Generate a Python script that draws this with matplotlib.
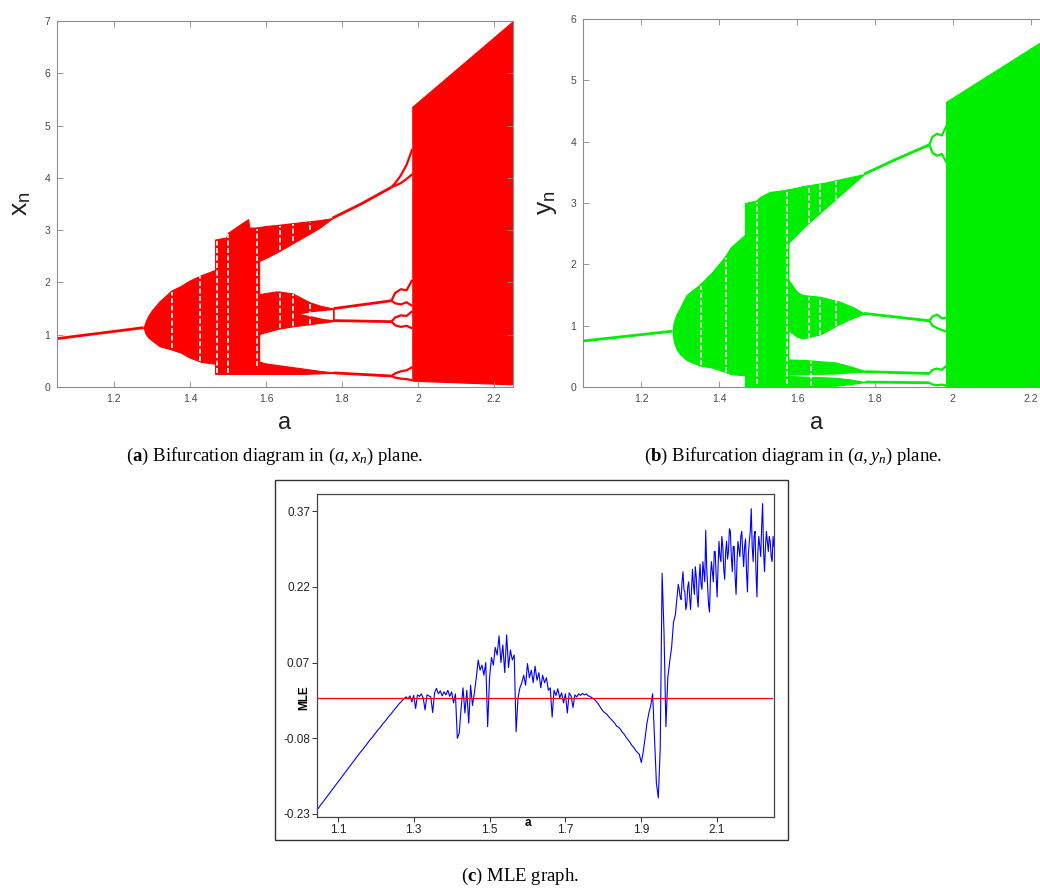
import numpy as np
import matplotlib
matplotlib.use("Agg")
import matplotlib.pyplot as plt
from matplotlib.patches import Rectangle

plt.rcParams['mathtext.fontset'] = 'custom'
plt.rcParams['mathtext.rm'] = 'Liberation Serif'
plt.rcParams['mathtext.it'] = 'Liberation Serif:italic'
plt.rcParams['mathtext.bf'] = 'Liberation Serif:bold'
plt.rcParams['mathtext.sf'] = 'Liberation Sans'
plt.rcParams['font.family'] = ['Liberation Sans', 'DejaVu Sans']

# ---------------- panel (a): bifurcation in (a, x_n) ----------------
xa_fix_a = [1.05, 1.278]
xa_fix_v = [0.925, 1.135]

xa_lens_a = [1.278, 1.283, 1.29, 1.30, 1.32, 1.35, 1.375, 1.40, 1.43, 1.466]
xa_lens_hi = [1.135, 1.25, 1.36, 1.47, 1.64, 1.84, 1.93, 2.04, 2.14, 2.24]
xa_lens_lo = [1.135, 1.02, 0.95, 0.89, 0.78, 0.72, 0.66, 0.56, 0.48, 0.445]

xa_b1_a = [1.466, 1.495, 1.50, 1.51, 1.53, 1.553, 1.556, 1.582]
xa_b1_hi = [2.82, 2.86, 2.95, 3.00, 3.10, 3.21, 3.05, 3.05]
xa_b1_lo = [0.25, 0.25, 0.25, 0.25, 0.25, 0.25, 0.25, 0.25]

xa_w_a = [1.575, 1.60, 1.63, 1.69, 1.74, 1.775]
xa_w_hi = [3.05, 3.08, 3.10, 3.15, 3.19, 3.23]
xa_w_lo = [2.39, 2.47, 2.58, 2.83, 3.04, 3.23]

xa_m_a = [1.575, 1.585, 1.61, 1.63, 1.67, 1.715, 1.745, 1.778]
xa_m_hi = [1.72, 1.78, 1.81, 1.83, 1.79, 1.62, 1.55, 1.50]
xa_m_lo = [0.96, 1.02, 1.07, 1.11, 1.16, 1.20, 1.23, 1.26]

xa_hole_a = [1.69, 1.72, 1.75, 1.775]
xa_hole_hi = [1.40, 1.44, 1.46, 1.48]
xa_hole_lo = [1.40, 1.36, 1.31, 1.29]

xa_lb_a = [1.575, 1.60, 1.65, 1.70, 1.74, 1.778]
xa_lb_hi = [0.50, 0.45, 0.40, 0.35, 0.31, 0.28]
xa_lb_lo = [0.25, 0.25, 0.25, 0.25, 0.26, 0.27]

xa_top_a = [1.775, 1.85, 1.93]
xa_top_v = [3.23, 3.50, 3.82]
xa_mu_a = [1.778, 1.93]
xa_mu_v = [1.50, 1.65]
xa_ml_a = [1.778, 1.93]
xa_ml_v = [1.27, 1.25]
xa_bt_a = [1.778, 1.93]
xa_bt_v = [0.27, 0.21]

xa_pd_a = [1.93, 1.94, 1.955, 1.97, 1.985]
xa_pd_top_hi = [3.82, 3.90, 4.05, 4.25, 4.55]
xa_pd_top_lo = [3.82, 3.85, 3.90, 3.98, 4.07]
xa_pd_mu_hi = [1.65, 1.80, 1.87, 1.85, 2.05]
xa_pd_mu_lo = [1.65, 1.60, 1.58, 1.62, 1.55]
xa_pd_ml_hi = [1.25, 1.33, 1.37, 1.36, 1.45]
xa_pd_ml_lo = [1.25, 1.18, 1.15, 1.17, 1.12]
xa_pd_bt_hi = [0.21, 0.26, 0.30, 0.32, 0.38]
xa_pd_bt_lo = [0.21, 0.18, 0.16, 0.15, 0.13]

xa_big_a = [1.985, 2.25]
xa_big_hi = [5.36, 7.0]
xa_big_lo = [0.12, 0.05]

xa_win_a = [1.352, 1.427, 1.470, 1.500, 1.577, 1.637, 1.637, 1.672, 1.672, 1.715, 1.715]
xa_win_lo = [0.74, 0.50, 0.27, 0.27, 0.40, 2.62, 1.12, 2.80, 1.17, 3.00, 1.21]
xa_win_hi = [1.82, 2.12, 2.80, 2.92, 3.02, 3.08, 1.80, 3.12, 1.78, 3.15, 1.62]

# ---------------- panel (b): bifurcation in (a, y_n) ----------------
ya_fix_a = [1.05, 1.28]
ya_fix_v = [0.75, 0.91]

ya_lens_a = [1.28, 1.283, 1.29, 1.30, 1.316, 1.35, 1.38, 1.414, 1.43, 1.466]
ya_lens_hi = [0.91, 1.05, 1.18, 1.30, 1.50, 1.67, 1.86, 2.12, 2.28, 2.48]
ya_lens_lo = [0.91, 0.75, 0.62, 0.53, 0.44, 0.35, 0.32, 0.25, 0.21, 0.19]

ya_b1_a = [1.466, 1.495, 1.505, 1.53, 1.578]
ya_b1_hi = [3.00, 3.04, 3.10, 3.18, 3.22]
ya_b1_lo = [0.0, 0.0, 0.0, 0.0, 0.0]

ya_w_a = [1.575, 1.62, 1.67, 1.72, 1.772]
ya_w_hi = [3.22, 3.28, 3.33, 3.40, 3.47]
ya_w_lo = [2.33, 2.62, 2.90, 3.18, 3.47]

ya_m_a = [1.572, 1.60, 1.615, 1.66, 1.71, 1.745, 1.772]
ya_m_hi = [1.80, 1.55, 1.50, 1.47, 1.39, 1.30, 1.20]
ya_m_lo = [0.95, 0.82, 0.79, 0.86, 1.03, 1.13, 1.20]

ya_l1_a = [1.572, 1.62, 1.70, 1.74, 1.775]
ya_l1_hi = [0.45, 0.44, 0.40, 0.33, 0.26]
ya_l1_lo = [0.20, 0.21, 0.22, 0.24, 0.25]
ya_l2_hi = [0.18, 0.17, 0.15, 0.12, 0.08]
ya_l2_lo = [0.0, 0.0, 0.02, 0.05, 0.08]

ya_top_a = [1.772, 1.85, 1.94]
ya_top_v = [3.47, 3.70, 3.95]
ya_mid_a = [1.772, 1.94]
ya_mid_v = [1.20, 1.08]
ya_low1_a = [1.775, 1.94]
ya_low1_v = [0.25, 0.22]
ya_low2_a = [1.775, 1.94]
ya_low2_v = [0.08, 0.07]

ya_pd_a = [1.94, 1.948, 1.96, 1.972, 1.985]
ya_pd_top_hi = [3.95, 4.08, 4.13, 4.10, 4.27]
ya_pd_top_lo = [3.95, 3.82, 3.77, 3.80, 3.65]
ya_pd_mid_hi = [1.08, 1.15, 1.18, 1.12, 1.13]
ya_pd_mid_lo = [1.08, 1.00, 0.96, 0.93, 0.90]
ya_pd_low_hi = [0.22, 0.28, 0.30, 0.28, 0.35]
ya_pd_low_lo = [0.07, 0.04, 0.03, 0.04, 0.02]

ya_big_a = [1.983, 2.25]
ya_big_hi = [4.65, 5.72]
ya_big_lo = [0.0, 0.0]

ya_win_a = [1.352, 1.418, 1.498, 1.575, 1.632, 1.632, 1.66, 1.66, 1.70, 1.70, 1.635]
ya_win_lo = [0.36, 0.25, 0.05, 0.05, 2.68, 0.80, 2.85, 0.85, 3.05, 1.00, 0.02]
ya_win_hi = [1.65, 2.10, 3.02, 3.18, 3.28, 1.47, 3.31, 1.45, 3.36, 1.40, 0.42]

# ---------------- panel (c): MLE ----------------
# part 1: a = 1.045 ... 1.990, step 0.005
mle1_a_start = 1.045
mle1_a_step = 0.005
mle1_v = [
    -0.222, -0.217, -0.212, -0.207, -0.202, -0.197, -0.192, -0.187, -0.182, -0.177,
    -0.172, -0.167, -0.162, -0.157, -0.152, -0.147, -0.142, -0.137, -0.132, -0.127,
    -0.122, -0.117, -0.112, -0.107, -0.103, -0.098, -0.093, -0.088, -0.083, -0.079,
    -0.074, -0.069, -0.064, -0.060, -0.055, -0.050, -0.046, -0.041, -0.036, -0.032,
    -0.027, -0.022, -0.018, -0.013, -0.009, -0.005, -0.001, 0.002, -0.002, 0.004,
    -0.008, 0.005, -0.021, 0.006, 0.003, 0.008, 0.000, -0.024, 0.006, 0.004,
    0.002, -0.029, 0.010, 0.019, 0.008, 0.014, 0.004, 0.012, 0.006, 0.015,
    0.003, 0.012, -0.010, 0.008, -0.080, -0.070, -0.020, 0.020, -0.030, 0.015,
    -0.050, 0.025, -0.015, 0.010, 0.040, 0.075, 0.055, 0.065, 0.045, 0.070,
    -0.057, 0.040, 0.080, 0.065, 0.100, 0.085, 0.123, 0.070, 0.105, 0.050,
    0.125, 0.060, 0.095, 0.075, 0.085, -0.067, 0.000, 0.020, 0.030, 0.045,
    0.025, 0.068, 0.040, 0.055, 0.030, 0.063, 0.035, 0.050, 0.020, 0.045,
    0.030, 0.040, 0.015, 0.020, -0.038, 0.015, 0.005, 0.018, 0.000, 0.010,
    -0.010, 0.008, -0.030, 0.010, 0.004, -0.019, 0.006, 0.002, 0.008, 0.005,
    0.009, 0.006, 0.008, 0.004, 0.003, 0.000, -0.002, -0.006, -0.010, -0.016,
    -0.022, -0.027, -0.030, -0.033, -0.038, -0.042, -0.046, -0.050, -0.056, -0.058,
    -0.062, -0.068, -0.072, -0.078, -0.083, -0.088, -0.094, -0.098, -0.104, -0.108,
    -0.112, -0.128, -0.108, -0.080, -0.050, -0.030, -0.015, 0.008, -0.080, -0.170,
    -0.198, -0.100, 0.247, 0.130, -0.057, 0.040, 0.072, 0.100, 0.150, 0.165,
]
# part 2: a = 1.995 ... 2.250, step 0.0025
mle2_a_start = 1.995
mle2_a_step = 0.0025
mle2_v = [
    0.205, 0.225, 0.215, 0.200, 0.195, 0.230, 0.250, 0.215, 0.210, 0.175,
    0.185, 0.220, 0.230, 0.200, 0.175, 0.215, 0.255, 0.225, 0.205, 0.260,
    0.240, 0.200, 0.180, 0.235, 0.265, 0.225, 0.215, 0.270, 0.250, 0.230,
    0.332, 0.260, 0.220, 0.185, 0.170, 0.240, 0.270, 0.250, 0.230, 0.290,
    0.290, 0.240, 0.200, 0.260, 0.310, 0.280, 0.270, 0.320, 0.300, 0.255,
    0.235, 0.290, 0.310, 0.275, 0.290, 0.335, 0.330, 0.280, 0.250, 0.300,
    0.300, 0.240, 0.205, 0.270, 0.310, 0.295, 0.280, 0.320, 0.330, 0.290,
    0.260, 0.300, 0.315, 0.250, 0.210, 0.285, 0.310, 0.330, 0.375, 0.300,
    0.270, 0.320, 0.330, 0.250, 0.200, 0.290, 0.320, 0.300, 0.280, 0.340,
    0.385, 0.290, 0.250, 0.300, 0.330, 0.310, 0.290, 0.320, 0.310, 0.280,
    0.270, 0.320, 0.300,
]
mle_zero = 0.0
mle_xticks = [1.1, 1.3, 1.5, 1.7, 1.9, 2.1]
mle_yticks = [-0.23, -0.08, 0.07, 0.22, 0.37]

bif_xticks = [1.2, 1.4, 1.6, 1.8, 2.0, 2.2]
bif_xticklabels = ['1.2', '1.4', '1.6', '1.8', '2', '2.2']

W, H = 1040, 896
fig = plt.figure(figsize=(W / 100, H / 100), dpi=100)


def box(l, t, r, b):
    return [l / W, 1 - b / H, (r - l) / W, (b - t) / H]


RED = '#ff0000'
GREEN = '#00ee00'


def band(ax, a, lo, hi, c):
    ax.fill_between(a, lo, hi, color=c, lw=0.8, edgecolor=c)


def line(ax, a, v, c, lw=2.0):
    ax.plot(a, v, color=c, lw=lw, solid_capstyle='butt')


def style_bif(ax, ymax, ylabel):
    ax.set_xlim(1.05, 2.25)
    ax.set_ylim(0, ymax)
    ax.set_xticks(bif_xticks)
    ax.set_xticklabels(bif_xticklabels)
    ax.set_yticks(range(0, ymax + 1))
    ax.tick_params(direction='in', length=4, width=0.6, color='#888888',
                   labelsize=7.5, labelcolor='#4a4a4a', top=True, right=True, pad=5)
    for s in ax.spines.values():
        s.set_color('#8c8c8c')
        s.set_linewidth(0.8)
    ax.set_xlabel('a', fontsize=17, color='#222222', labelpad=6)
    ax.set_ylabel(ylabel, fontsize=19, color='#222222', labelpad=8)


# ---- panel (a)
ax1 = fig.add_axes(box(57, 21, 513, 387))
line(ax1, xa_fix_a, xa_fix_v, RED)
band(ax1, xa_lens_a, xa_lens_lo, xa_lens_hi, RED)
band(ax1, xa_b1_a, xa_b1_lo, xa_b1_hi, RED)
band(ax1, xa_w_a, xa_w_lo, xa_w_hi, RED)
band(ax1, xa_m_a, xa_m_lo, xa_m_hi, RED)
ax1.fill_between(xa_hole_a, xa_hole_lo, xa_hole_hi, color='white', lw=0)
band(ax1, xa_lb_a, xa_lb_lo, xa_lb_hi, RED)
for a_, v_ in [(xa_top_a, xa_top_v), (xa_mu_a, xa_mu_v), (xa_ml_a, xa_ml_v), (xa_bt_a, xa_bt_v)]:
    line(ax1, a_, v_, RED)
for v_ in [xa_pd_top_hi, xa_pd_top_lo, xa_pd_mu_hi, xa_pd_mu_lo,
           xa_pd_ml_hi, xa_pd_ml_lo, xa_pd_bt_hi, xa_pd_bt_lo]:
    line(ax1, xa_pd_a, v_, RED, lw=1.6)
ax1.vlines(xa_win_a, xa_win_lo, xa_win_hi, colors='white', lw=1.2,
           linestyles=[(0, (3, 1.5))])
band(ax1, xa_big_a, xa_big_lo, xa_big_hi, RED)
style_bif(ax1, 7, r'$\mathsf{x}_\mathsf{n}$')

# ---- panel (b)
ax2 = fig.add_axes(box(583, 19, 1050, 387))
line(ax2, ya_fix_a, ya_fix_v, GREEN)
band(ax2, ya_lens_a, ya_lens_lo, ya_lens_hi, GREEN)
band(ax2, ya_b1_a, ya_b1_lo, ya_b1_hi, GREEN)
band(ax2, ya_w_a, ya_w_lo, ya_w_hi, GREEN)
band(ax2, ya_m_a, ya_m_lo, ya_m_hi, GREEN)
band(ax2, ya_l1_a, ya_l1_lo, ya_l1_hi, GREEN)
band(ax2, ya_l1_a, ya_l2_lo, ya_l2_hi, GREEN)
for a_, v_ in [(ya_top_a, ya_top_v), (ya_mid_a, ya_mid_v), (ya_low1_a, ya_low1_v), (ya_low2_a, ya_low2_v)]:
    line(ax2, a_, v_, GREEN)
for v_ in [ya_pd_top_hi, ya_pd_top_lo, ya_pd_mid_hi, ya_pd_mid_lo, ya_pd_low_hi, ya_pd_low_lo]:
    line(ax2, ya_pd_a, v_, GREEN, lw=1.6)
ax2.vlines(ya_win_a, ya_win_lo, ya_win_hi, colors='white', lw=1.2,
           linestyles=[(0, (3, 1.5))])
band(ax2, ya_big_a, ya_big_lo, ya_big_hi, GREEN)
style_bif(ax2, 6, r'$\mathsf{y}_\mathsf{n}$')

# ---- panel (c)
fig.add_artist(Rectangle((275 / W, 1 - 840 / H), (788 - 275) / W, (840 - 480) / H,
                         transform=fig.transFigure, fill=False, ec='#333333', lw=1.0))
ax3 = fig.add_axes(box(317, 494, 774, 817))
mle1_a = mle1_a_start + mle1_a_step * np.arange(len(mle1_v))
mle2_a = mle2_a_start + mle2_a_step * np.arange(len(mle2_v))
mle_a = np.concatenate([mle1_a, mle2_a])
mle_v = np.concatenate([mle1_v, mle2_v])
ax3.plot(mle_a, mle_v, color='#0000ff', lw=0.8)
ax3.plot([mle_a[0], mle_a[-1] - 0.004], [mle_zero, mle_zero], color='#ff0000', lw=0.9)
ax3.set_xlim(1.045, 2.25)
ax3.set_ylim(-0.236, 0.404)
ax3.set_xticks(mle_xticks)
ax3.set_xticklabels([f'{t:.1f}' for t in mle_xticks])
ax3.set_yticks(mle_yticks)
ax3.set_yticklabels([f'{t:.2f}' for t in mle_yticks])
ax3.tick_params(direction='out', length=3.5, width=0.7, color='#333333',
                labelsize=8.5, labelcolor='#222222', pad=1.5)
for s in ax3.spines.values():
    s.set_color('#444444')
    s.set_linewidth(0.9)
ax3.text(1.6, -0.236, 'a', fontsize=8.5, fontweight='bold', ha='center', va='top',
         transform=ax3.transData)
ax3.text(-0.028, 0.37, 'MLE', fontsize=8.5, fontweight='bold', rotation=90,
         ha='center', va='center', transform=ax3.transAxes)

# ---- captions
cap_kw = dict(fontsize=13.5, family='Liberation Serif', ha='center', va='center')
fig.text(275 / W, 1 - 456 / H, r'($\mathbf{a}$) Bifurcation diagram in $(a, x_n)$ plane.', **cap_kw)
fig.text(793 / W, 1 - 456 / H, r'($\mathbf{b}$) Bifurcation diagram in $(a, y_n)$ plane.', **cap_kw)
fig.text(520 / W, 1 - 876 / H, r'($\mathbf{c}$) MLE graph.', **cap_kw)

fig.savefig('out.png', dpi=100)
